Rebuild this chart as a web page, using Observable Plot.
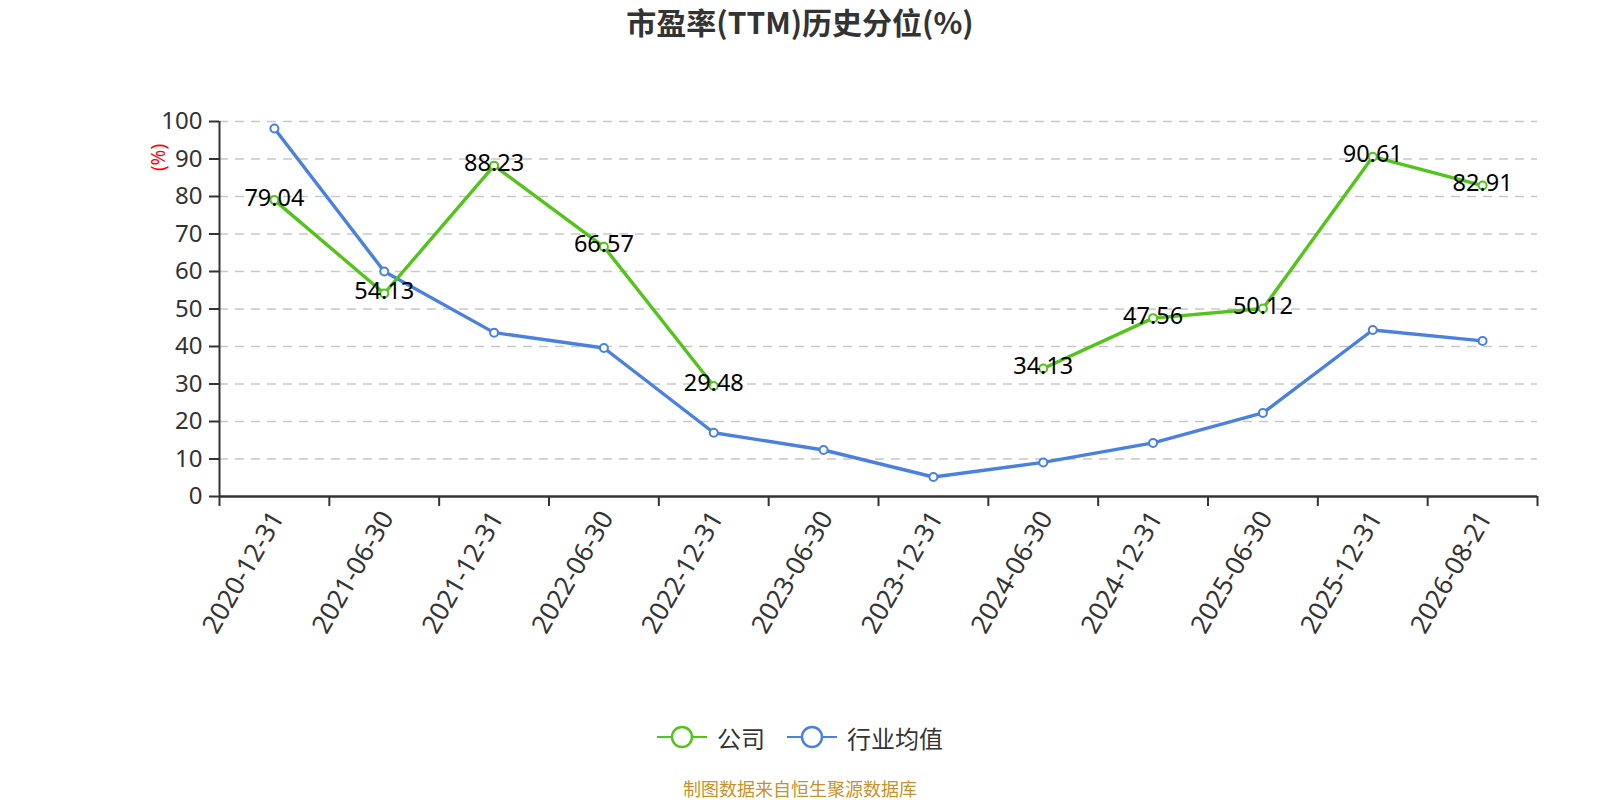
<!DOCTYPE html>
<html>
<head>
<meta charset="utf-8">
<script src="https://cdn.jsdelivr.net/npm/d3@7"></script>
<script src="https://cdn.jsdelivr.net/npm/@observablehq/plot@0.6"></script>
<style>
  html, body { margin: 0; padding: 0; background: #fff; }
  body { width: 1600px; height: 800px; position: relative; overflow: hidden; font-family: "Noto Sans CJK SC", "Noto Sans", sans-serif; }
  .title { position: absolute; left: 0; top: 0; width: 1600px; height: 42px; line-height: 42px; text-align: center; font-size: 30px; font-weight: bold; color: #333; }
  #chart { position: absolute; left: 0; top: 42px; }
  .legend { position: absolute; left: 0; top: 712px; width: 1600px; height: 50px; display: flex; justify-content: center; align-items: center; font-size: 24px; color: #333; gap: 22px; }
  .legend .item { display: flex; align-items: center; gap: 10px; }
  .legend svg { display: block; }
  .caption { position: absolute; left: 0; top: 768px; width: 1600px; height: 40px; line-height: 40px; text-align: center; font-size: 18px; color: #c8922a; }
  #chart svg { display: block; }
</style>
</head>
<body>
  <div class="title">市盈率(TTM)历史分位(%)</div>
  <div id="chart"></div>
  <div class="legend" id="legend"></div>
  <div class="caption">制图数据来自恒生聚源数据库</div>
<script>
const categories = ["2020-12-31","2021-06-30","2021-12-31","2022-06-30","2022-12-31","2023-06-30","2023-12-31","2024-06-30","2024-12-31","2025-06-30","2025-12-31","2026-08-21"];
const company = [79.04, 54.13, 88.23, 66.57, 29.48, null, null, 34.13, 47.56, 50.12, 90.61, 82.91];
const industry = [98.15, 60.0, 43.7, 39.6, 17.0, 12.4, 5.2, 9.1, 14.3, 22.3, 44.4, 41.5];
const yTicks = [0, 10, 20, 30, 40, 50, 60, 70, 80, 90, 100];
const seriesNames = ["公司", "行业均值"];
const colors = ["#52c41a", "#4a80e0"];

const rows = categories.map((c, i) => ({i, pos: i + 0.5, date: c, company: company[i], industry: industry[i]}));
const companyRows = rows.filter(d => d.company != null);
const boundaries = d3.range(categories.length + 1);

const chart = Plot.plot({
  width: 1600,
  height: 670,
  marginLeft: 219,
  marginRight: 63,
  marginTop: 79,
  marginBottom: 216,
  style: {fontFamily: "'Noto Sans', 'Noto Sans CJK SC', sans-serif", color: "#333", background: "#fff"},
  x: {type: "linear", domain: [0, categories.length]},
  y: {domain: [0, 100]},
  marks: [
    Plot.ruleY(yTicks.slice(1), {stroke: "#c8c8c8", strokeWidth: 1.6, strokeDasharray: "9,7"}),
    Plot.axisY({ticks: yTicks, tickSize: 10, tickPadding: 7, fontSize: 24, tickFormat: d => String(d), stroke: "#333", strokeWidth: 2, label: null}),
    Plot.axisX({ticks: boundaries, tickSize: 10, tickFormat: () => "", stroke: "#333", strokeWidth: 2, label: null}),
    Plot.axisX({ticks: rows.map(d => d.pos), tickSize: 0, tickPadding: 17, dx: 3, tickRotate: -60, fontSize: 26, tickFormat: p => categories[Math.round(p - 0.5)], label: null}),
    Plot.ruleX([0], {stroke: "#333", strokeWidth: 2}),
    Plot.ruleY([0], {stroke: "#333", strokeWidth: 2.5}),
    Plot.text(["(%)"], {frameAnchor: "top-left", textAnchor: "middle", lineAnchor: "middle", text: d => d, rotate: -90, dx: -61, dy: 36, fill: "red", fontSize: 19}),
    Plot.line(rows, {x: "pos", y: "industry", stroke: colors[1], strokeWidth: 3.4}),
    Plot.line(rows, {x: "pos", y: "company", stroke: colors[0], strokeWidth: 3.4}),
    Plot.dot(rows, {x: "pos", y: "industry", r: 4, fill: "white", stroke: colors[1], strokeWidth: 2}),
    Plot.dot(companyRows, {x: "pos", y: "company", r: 4, fill: "white", stroke: colors[0], strokeWidth: 2}),
    Plot.text(companyRows, {x: "pos", y: "company", text: d => d.company.toFixed(2), fontSize: 23.5, fill: "#000", dy: -2})
  ]
});
document.getElementById("chart").appendChild(chart);

const legend = document.getElementById("legend");
seriesNames.forEach((name, k) => {
  const item = document.createElement("div");
  item.className = "item";
  item.innerHTML = `<svg width="50" height="26"><line x1="0" x2="50" y1="13" y2="13" stroke="${colors[k]}" stroke-width="2"/><circle cx="25" cy="13" r="10" fill="white" stroke="${colors[k]}" stroke-width="2.5"/></svg><span>${name}</span>`;
  legend.appendChild(item);
});
</script>
</body>
</html>
